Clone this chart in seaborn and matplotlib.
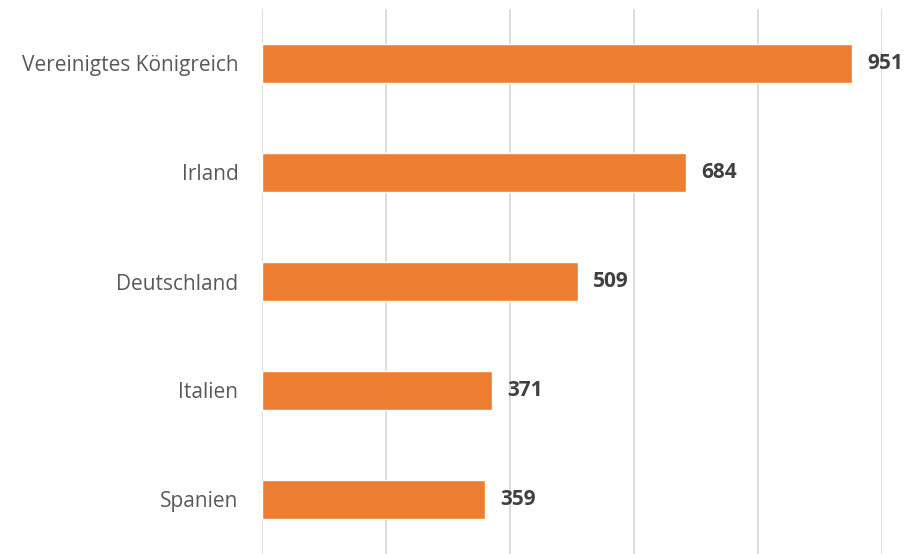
import matplotlib
matplotlib.use("Agg")
import matplotlib.pyplot as plt
import seaborn as sns
import pandas as pd

countries = ["Vereinigtes Königreich", "Irland", "Deutschland", "Italien", "Spanien"]
values = [951, 684, 509, 371, 359]

df = pd.DataFrame({"Land": countries, "Wert": values})

sns.set_style("white")
plt.rcParams['font.family'] = ['Open Sans', 'DejaVu Sans']

fig = plt.figure(figsize=(9.21, 5.54), dpi=100)
ax = fig.add_axes([262/921, 0.0, (882-262)/921, 1 - 9/554])

sns.barplot(data=df, x="Wert", y="Land", orient="h", color="#ED7D31",
            width=0.35, saturation=1, ax=ax)

ax.set_xlim(0, 1000)
ax.set_xticks([0, 200, 400, 600, 800, 1000])
ax.set_xticklabels([])
ax.tick_params(axis="x", length=0)
ax.tick_params(axis="y", length=0, pad=17, labelsize=15, labelcolor="#595959")
ax.grid(axis="x", color="#D9D9D9", linewidth=1.3)
ax.set_axisbelow(True)
for s in ax.spines.values():
    s.set_visible(False)
ax.set_xlabel("")
ax.set_ylabel("")

for c in ax.containers:
    ax.bar_label(c, labels=[str(v) for v in values], padding=11,
                 fontsize=15, fontweight="bold", color="#404040")

fig.savefig("out.png", dpi=100)
